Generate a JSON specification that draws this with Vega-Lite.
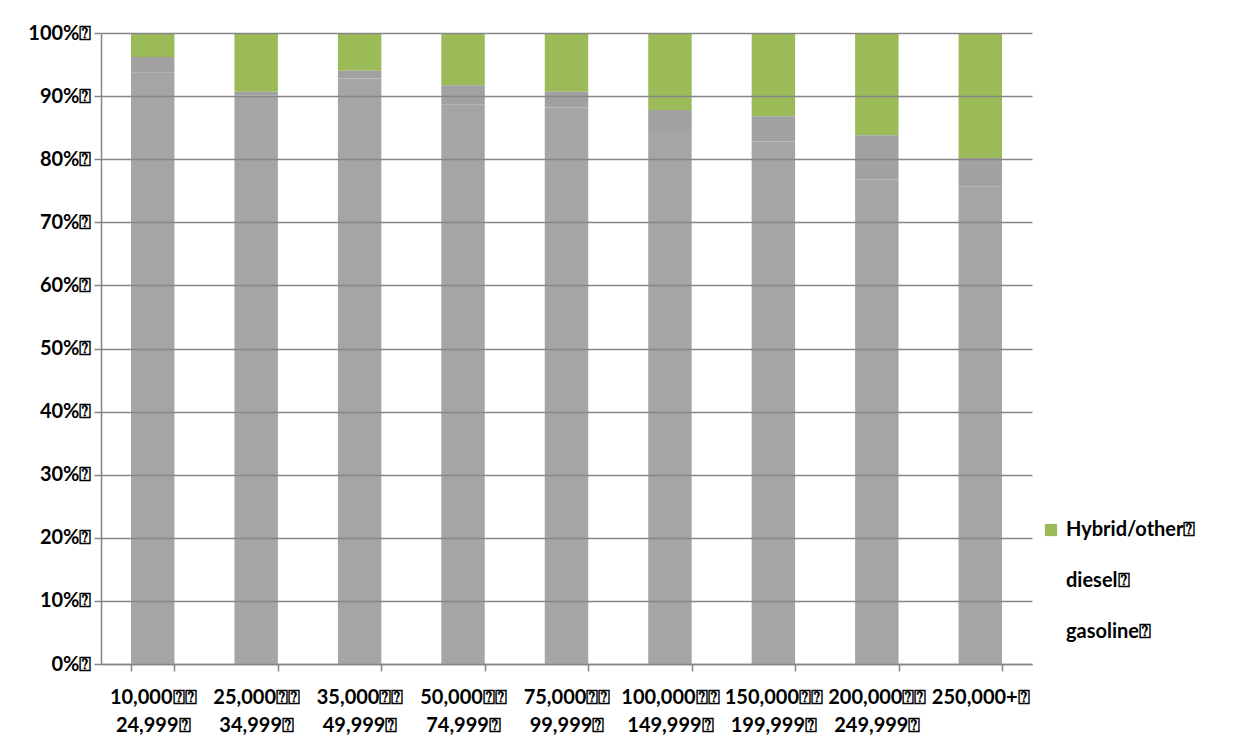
{
  "$schema": "https://vega.github.io/schema/vega-lite/v6.json",
  "width": 931,
  "height": 631,
  "autosize": {"type": "none"},
  "padding": {"left": 101, "top": 33, "right": 217, "bottom": 85},
  "background": "white",
  "data": {
    "values": [
      {"income": "10,000\u2370\u2370 24,999\u2370", "fuel": "Hybrid/other\u2370", "share": 3.8},
      {"income": "10,000\u2370\u2370 24,999\u2370", "fuel": "diesel\u2370", "share": 2.5},
      {"income": "10,000\u2370\u2370 24,999\u2370", "fuel": "gasoline\u2370", "share": 93.7},
      {"income": "25,000\u2370\u2370 34,999\u2370", "fuel": "Hybrid/other\u2370", "share": 9.3},
      {"income": "25,000\u2370\u2370 34,999\u2370", "fuel": "diesel\u2370", "share": 0.6},
      {"income": "25,000\u2370\u2370 34,999\u2370", "fuel": "gasoline\u2370", "share": 90.1},
      {"income": "35,000\u2370\u2370 49,999\u2370", "fuel": "Hybrid/other\u2370", "share": 6.0},
      {"income": "35,000\u2370\u2370 49,999\u2370", "fuel": "diesel\u2370", "share": 1.2},
      {"income": "35,000\u2370\u2370 49,999\u2370", "fuel": "gasoline\u2370", "share": 92.8},
      {"income": "50,000\u2370\u2370 74,999\u2370", "fuel": "Hybrid/other\u2370", "share": 8.3},
      {"income": "50,000\u2370\u2370 74,999\u2370", "fuel": "diesel\u2370", "share": 3.0},
      {"income": "50,000\u2370\u2370 74,999\u2370", "fuel": "gasoline\u2370", "share": 88.7},
      {"income": "75,000\u2370\u2370 99,999\u2370", "fuel": "Hybrid/other\u2370", "share": 9.3},
      {"income": "75,000\u2370\u2370 99,999\u2370", "fuel": "diesel\u2370", "share": 2.5},
      {"income": "75,000\u2370\u2370 99,999\u2370", "fuel": "gasoline\u2370", "share": 88.2},
      {"income": "100,000\u2370\u2370 149,999\u2370", "fuel": "Hybrid/other\u2370", "share": 12.2},
      {"income": "100,000\u2370\u2370 149,999\u2370", "fuel": "diesel\u2370", "share": 3.5},
      {"income": "100,000\u2370\u2370 149,999\u2370", "fuel": "gasoline\u2370", "share": 84.3},
      {"income": "150,000\u2370\u2370 199,999\u2370", "fuel": "Hybrid/other\u2370", "share": 13.2},
      {"income": "150,000\u2370\u2370 199,999\u2370", "fuel": "diesel\u2370", "share": 4.0},
      {"income": "150,000\u2370\u2370 199,999\u2370", "fuel": "gasoline\u2370", "share": 82.8},
      {"income": "200,000\u2370\u2370 249,999\u2370", "fuel": "Hybrid/other\u2370", "share": 16.2},
      {"income": "200,000\u2370\u2370 249,999\u2370", "fuel": "diesel\u2370", "share": 7.0},
      {"income": "200,000\u2370\u2370 249,999\u2370", "fuel": "gasoline\u2370", "share": 76.8},
      {"income": "250,000+\u2370", "fuel": "Hybrid/other\u2370", "share": 19.8},
      {"income": "250,000+\u2370", "fuel": "diesel\u2370", "share": 4.5},
      {"income": "250,000+\u2370", "fuel": "gasoline\u2370", "share": 75.7}
    ]
  },
  "mark": {"type": "bar"},
  "encoding": {
    "x": {
      "field": "income",
      "type": "nominal",
      "sort": null,
      "scale": {"paddingInner": 0.58, "paddingOuter": 0.29},
      "axis": {
        "title": null,
        "labelAngle": 0,
        "labelFont": "Lato",
        "labelFontWeight": "bold",
        "labelFontSize": 20,
        "labelColor": "black",
        "labelLineHeight": 28,
        "labelPadding": 16,
        "labelExpr": "split(datum.label, ' ')",
        "tickBand": "extent",
        "tickSize": 7,
        "tickColor": "#868686",
        "tickWidth": 1.5,
        "domainColor": "#868686",
        "domainWidth": 1.5,
        "labelOverlap": false
      }
    },
    "y": {
      "field": "share",
      "type": "quantitative",
      "stack": "normalize",
      "scale": {"domain": [0, 1], "nice": false},
      "axis": {
        "title": null,
        "values": [0, 0.1, 0.2, 0.3, 0.4, 0.5, 0.6, 0.7, 0.8, 0.9, 1],
        "labelExpr": "format(datum.value, '.0%') + '\u2370'",
        "labelFont": "Lato",
        "labelFontWeight": "bold",
        "labelFontSize": 20,
        "labelColor": "black",
        "labelPadding": 3,
        "tickSize": 7,
        "tickColor": "#868686",
        "tickWidth": 1.5,
        "grid": true,
        "gridColor": "#868686",
        "gridWidth": 1.5,
        "domainColor": "#868686",
        "domainWidth": 1.5,
        "zindex": 1
      }
    },
    "color": {
      "field": "fuel",
      "type": "nominal",
      "scale": {
        "domain": ["Hybrid/other\u2370", "diesel\u2370", "gasoline\u2370"],
        "range": ["#9bbb59", "#a1a1a1", "#a5a5a5"]
      },
      "legend": {
        "title": null,
        "orient": "none",
        "legendX": 940,
        "legendY": 487,
        "symbolType": "square",
        "symbolSize": 150,
        "symbolStrokeWidth": 0,
        "labelFont": "Lato",
        "labelFontWeight": "bold",
        "labelFontSize": 20,
        "labelColor": "black",
        "labelOffset": 5,
        "rowPadding": 31,
        "encode": {
          "symbols": {
            "update": {
              "fill": [
                {"test": "datum.value !== 'Hybrid/other\u2370'", "value": "transparent"},
                {"value": "#9bbb59"}
              ],
              "opacity": [
                {"test": "datum.value !== 'Hybrid/other\u2370'", "value": 0},
                {"value": 1}
              ]
            }
          }
        }
      }
    },
    "order": {"field": "fuel", "sort": "descending"}
  },
  "config": {
    "view": {"stroke": null}
  }
}
